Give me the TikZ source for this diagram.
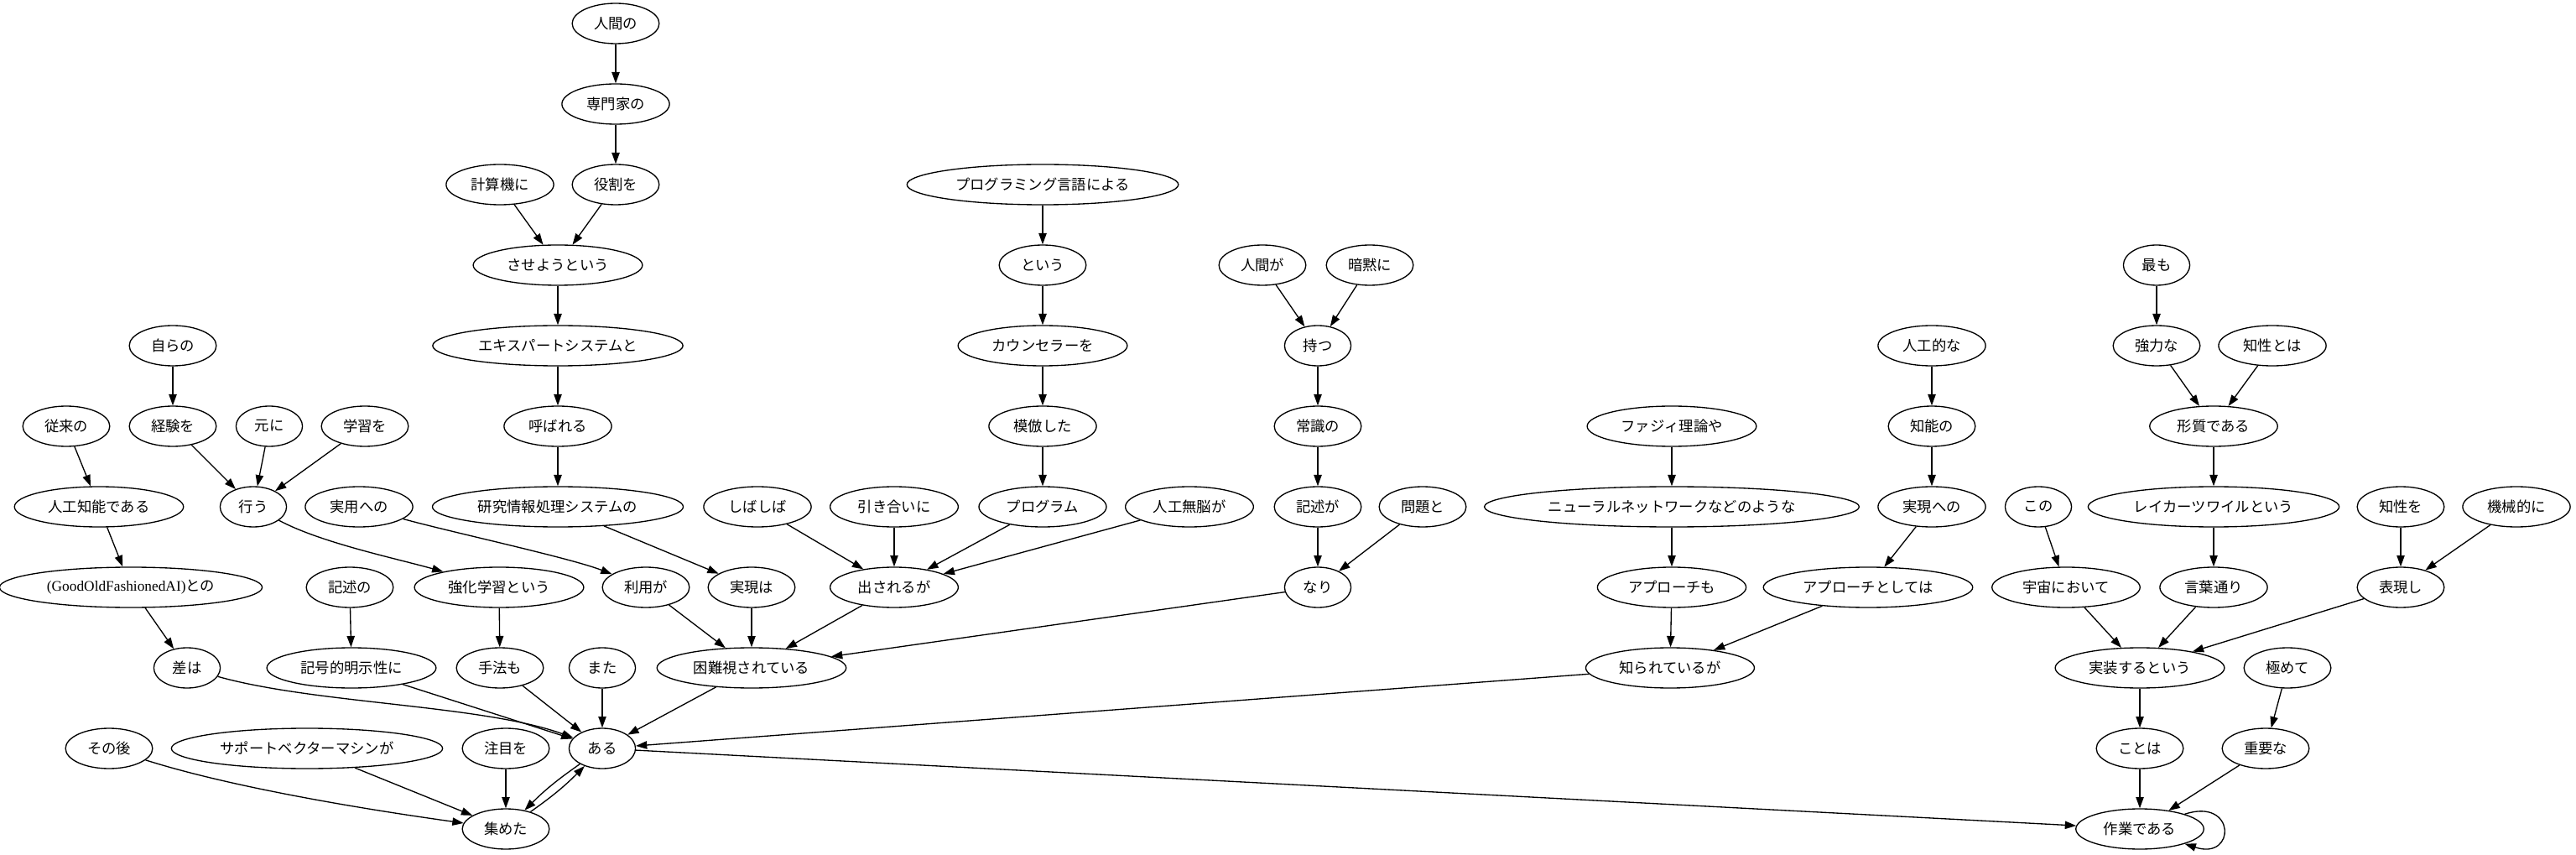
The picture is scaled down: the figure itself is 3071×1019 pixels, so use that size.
\documentclass[tikz,border=0pt]{standalone}
\usepackage{fontspec}
\setmainfont{Liberation Serif}
\newfontfamily\jpfont{Noto Sans CJK JP}
\usepackage{tikz}
\usetikzlibrary{shapes.geometric,arrows.meta}
\tikzstyle{bunsetsu}=[ellipse, draw=black, line width=1pt, inner xsep=8pt, inner ysep=4pt, minimum width=54pt, minimum height=36pt, font=\jpfont\fontsize{13}{15}\selectfont]

\begin{document}
\begin{tikzpicture}[x=0.75pt, y=-0.75pt, line width=1pt, >={Triangle[length=10pt,width=7pt]}]
\useasboundingbox (0,0) rectangle (3071,1019);
% rows 0-2
\node[bunsetsu] (b1) at (734,28) {人間の};
\node[bunsetsu] (b2) at (734,124) {専門家の};
\node[bunsetsu] (b3) at (596,220) {計算機に};
\node[bunsetsu] (b4) at (734,220) {役割を};
\node[bunsetsu] (b5) at (1243,220) {プログラミング言語による};
% row 3
\node[bunsetsu] (b6) at (665,316) {させようという};
\node[bunsetsu] (b7) at (1243,316) {という};
\node[bunsetsu] (b8) at (1505,316) {人間が};
\node[bunsetsu] (b9) at (1633,316) {暗黙に};
\node[bunsetsu] (b10) at (2571,316) {最も};
% row 4
\node[bunsetsu] (b11) at (206,412) {自らの};
\node[bunsetsu] (b12) at (665,412) {エキスパートシステムと};
\node[bunsetsu] (b13) at (1243,412) {カウンセラーを};
\node[bunsetsu] (b14) at (1571,412) {持つ};
\node[bunsetsu] (b15) at (2303,412) {人工的な};
\node[bunsetsu] (b16) at (2571,412) {強力な};
\node[bunsetsu] (b17) at (2709,412) {知性とは};
% row 5
\node[bunsetsu] (b18) at (79,508) {従来の};
\node[bunsetsu] (b19) at (206,508) {経験を};
\node[bunsetsu] (b20) at (321,508) {元に};
\node[bunsetsu] (b21) at (435,508) {学習を};
\node[bunsetsu] (b22) at (665,508) {呼ばれる};
\node[bunsetsu] (b23) at (1243,508) {模倣した};
\node[bunsetsu] (b24) at (1571,508) {常識の};
\node[bunsetsu] (b25) at (1993,508) {ファジィ理論や};
\node[bunsetsu] (b26) at (2303,508) {知能の};
\node[bunsetsu] (b27) at (2639,508) {形質である};
% row 6
\node[bunsetsu] (b28) at (118,604) {人工知能である};
\node[bunsetsu] (b29) at (302,604) {行う};
\node[bunsetsu] (b30) at (428,604) {実用への};
\node[bunsetsu] (b31) at (665,604) {研究情報処理システムの};
\node[bunsetsu] (b32) at (903,604) {しばしば};
\node[bunsetsu] (b33) at (1066,604) {引き合いに};
\node[bunsetsu] (b34) at (1243,604) {プログラム};
\node[bunsetsu] (b35) at (1418,604) {人工無脳が};
\node[bunsetsu] (b36) at (1571,604) {記述が};
\node[bunsetsu] (b37) at (1696,604) {問題と};
\node[bunsetsu] (b38) at (1993,604) {ニューラルネットワークなどのような};
\node[bunsetsu] (b39) at (2303,604) {実現への};
\node[bunsetsu] (b40) at (2430,604) {この};
\node[bunsetsu] (b41) at (2639,604) {レイカーツワイルという};
\node[bunsetsu] (b42) at (2862,604) {知性を};
\node[bunsetsu] (b43) at (3000,604) {機械的に};
% row 7
\node[bunsetsu] (b44) at (156,700) {{\rmfamily (GoodOldFashionedAI)}との};
\node[bunsetsu] (b45) at (417,700) {記述の};
\node[bunsetsu] (b46) at (595,700) {強化学習という};
\node[bunsetsu] (b47) at (770,700) {利用が};
\node[bunsetsu] (b48) at (896,700) {実現は};
\node[bunsetsu] (b49) at (1066,700) {出されるが};
\node[bunsetsu] (b50) at (1571,700) {なり};
\node[bunsetsu] (b51) at (1993,700) {アプローチも};
\node[bunsetsu] (b52) at (2227,700) {アプローチとしては};
\node[bunsetsu] (b53) at (2463,700) {宇宙において};
\node[bunsetsu] (b54) at (2639,700) {言葉通り};
\node[bunsetsu] (b55) at (2862,700) {表現し};
% row 8
\node[bunsetsu] (b56) at (223,796) {差は};
\node[bunsetsu] (b57) at (419,796) {記号的明示性に};
\node[bunsetsu] (b58) at (596,796) {手法も};
\node[bunsetsu] (b59) at (718,796) {また};
\node[bunsetsu] (b60) at (896,796) {困難視されている};
\node[bunsetsu] (b61) at (1991,796) {知られているが};
\node[bunsetsu] (b62) at (2551,796) {実装するという};
\node[bunsetsu] (b63) at (2727,796) {極めて};
% row 9
\node[bunsetsu] (b64) at (130,892) {その後};
\node[bunsetsu] (b65) at (366,892) {サポートベクターマシンが};
\node[bunsetsu] (b66) at (603,892) {注目を};
\node[bunsetsu] (b67) at (718,892) {ある};
\node[bunsetsu] (b68) at (2551,892) {ことは};
\node[bunsetsu] (b69) at (2701,892) {重要な};
% row 10
\node[bunsetsu] (b70) at (603,988) {集めた};
\node[bunsetsu] (b71) at (2551,988) {作業である};

\draw[->] (b1) -- (b2);
\draw[->] (b2) -- (b4);
\draw[->] (b3) -- (b6);
\draw[->] (b4) -- (b6);
\draw[->] (b6) -- (b12);
\draw[->] (b12) -- (b22);
\draw[->] (b22) -- (b31);
\draw[->] (b31) -- (b48);
\draw[->] (b11) -- (b19);
\draw[->] (b19) -- (b29);
\draw[->] (b20) -- (b29);
\draw[->] (b21) -- (b29);
\draw[->] (b18) -- (b28);
\draw[->] (b28) -- (b44);
\draw[->] (b44) -- (b56);
\draw[->] (b29) .. controls +(81,43) and +(-125,-35) .. (b46);
\draw[->] (b30) .. controls +(109,30) and +(-90,-35) .. (b47);
\draw[->] (b46) -- (b58);
\draw[->] (b45) -- (b57);
\draw[->] (b47) -- (b60);
\draw[->] (b48) -- (b60);
\draw[->] (b49) -- (b60);
\draw[->] (b32) -- (b49);
\draw[->] (b33) -- (b49);
\draw[->] (b34) -- (b49);
\draw[->] (b35) -- (b49);
\draw[->] (b5) -- (b7);
\draw[->] (b7) -- (b13);
\draw[->] (b13) -- (b23);
\draw[->] (b23) -- (b34);
\draw[->] (b8) -- (b14);
\draw[->] (b9) -- (b14);
\draw[->] (b14) -- (b24);
\draw[->] (b24) -- (b36);
\draw[->] (b36) -- (b50);
\draw[->] (b37) -- (b50);
\draw[->] (b50) -- (b60);
\draw[->] (b56) .. controls +(153,43) and +(-142,-52) .. (b67);
\draw[->] (b57) -- (b67);
\draw[->] (b58) -- (b67);
\draw[->] (b59) -- (b67);
\draw[->] (b60) -- (b67);
\draw[->] (b61) -- (b67);
\draw[->] (b25) -- (b38);
\draw[->] (b38) -- (b51);
\draw[->] (b51) -- (b61);
\draw[->] (b15) -- (b26);
\draw[->] (b26) -- (b39);
\draw[->] (b39) -- (b52);
\draw[->] (b52) -- (b61);
\draw[->] (b10) -- (b16);
\draw[->] (b16) -- (b27);
\draw[->] (b17) -- (b27);
\draw[->] (b27) -- (b41);
\draw[->] (b41) -- (b54);
\draw[->] (b40) -- (b53);
\draw[->] (b42) -- (b55);
\draw[->] (b43) -- (b55);
\draw[->] (b53) -- (b62);
\draw[->] (b54) -- (b62);
\draw[->] (b55) -- (b62);
\draw[->] (b62) -- (b68);
\draw[->] (b63) -- (b69);
\draw[->] (b68) -- (b71);
\draw[->] (b69) -- (b71);
\draw[->] (b67) -- (b71);
\draw[->] (b71) .. controls +(115,-38) and +(115,38) .. (b71);
\draw[->] (b64) .. controls +(148,47) and +(-165,-23) .. (b70);
\draw[->] (b65) -- (b70);
\draw[->] (b66) -- (b70);
\draw[->] (b67) to[bend right=5] (b70);
\draw[->] (b70) to[bend right=5] (b67);
\end{tikzpicture}
\end{document}
